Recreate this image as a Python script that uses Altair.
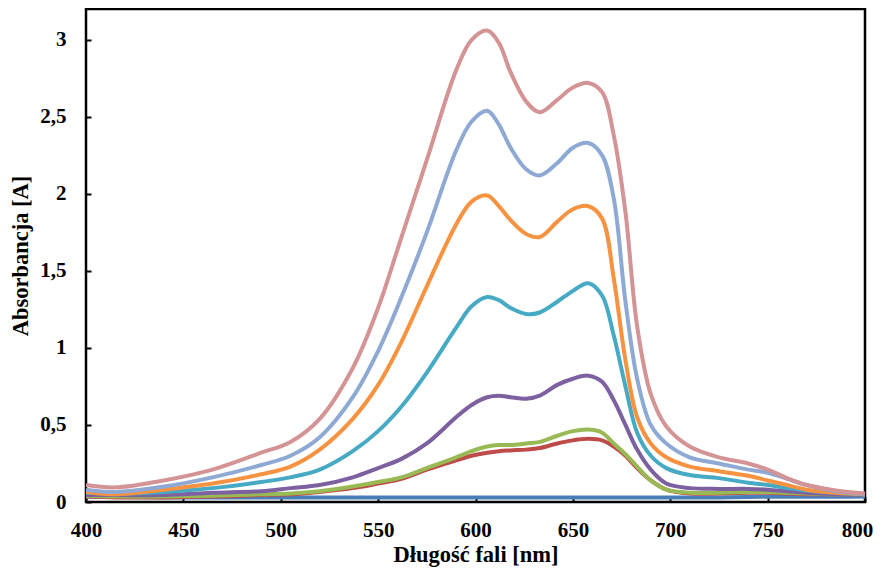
import altair as alt
import pandas as pd

wavelength = [400, 415, 440, 465, 490, 505, 520, 537, 550, 562, 575, 590, 598, 606, 612,
              618, 626, 633, 642, 650, 658, 665, 671, 677, 683, 690, 698, 710, 725, 740,
              750, 760, 770, 785, 800]

s_blue = [0.035, 0.032, 0.03, 0.03, 0.03, 0.03, 0.03, 0.03, 0.03, 0.03, 0.03, 0.03, 0.03, 0.03, 0.03,
          0.03, 0.03, 0.03, 0.03, 0.03, 0.03, 0.03, 0.03, 0.03, 0.03, 0.03, 0.03, 0.03, 0.03, 0.033,
          0.034, 0.034, 0.034, 0.034, 0.035]
s_red = [0.035, 0.03, 0.03, 0.035, 0.045, 0.05, 0.065, 0.09, 0.12, 0.15, 0.21, 0.27, 0.30, 0.32, 0.33,
         0.335, 0.34, 0.35, 0.38, 0.40, 0.41, 0.40, 0.36, 0.30, 0.22, 0.14, 0.08, 0.055, 0.055, 0.06,
         0.06, 0.055, 0.05, 0.05, 0.05]
s_green = [0.04, 0.035, 0.035, 0.04, 0.05, 0.055, 0.07, 0.10, 0.13, 0.16, 0.22, 0.29, 0.33, 0.36, 0.37,
           0.37, 0.38, 0.39, 0.43, 0.46, 0.47, 0.45, 0.38, 0.31, 0.23, 0.14, 0.08, 0.06, 0.06, 0.065,
           0.065, 0.06, 0.055, 0.05, 0.05]
s_purple = [0.045, 0.045, 0.045, 0.06, 0.07, 0.09, 0.11, 0.16, 0.22, 0.28, 0.38, 0.55, 0.63, 0.68, 0.69,
            0.68, 0.67, 0.69, 0.76, 0.80, 0.82, 0.78, 0.66, 0.50, 0.34, 0.21, 0.12, 0.09, 0.085, 0.085,
            0.08, 0.07, 0.06, 0.05, 0.05]
s_teal = [0.06, 0.055, 0.065, 0.09, 0.13, 0.16, 0.21, 0.33, 0.46, 0.62, 0.84, 1.13, 1.27, 1.33, 1.31,
          1.26, 1.22, 1.23, 1.30, 1.37, 1.42, 1.34, 1.08, 0.75, 0.45, 0.30, 0.22, 0.175, 0.155, 0.125,
          0.11, 0.09, 0.075, 0.06, 0.05]
s_orange = [0.065, 0.05, 0.08, 0.12, 0.18, 0.23, 0.34, 0.54, 0.76, 1.04, 1.40, 1.80, 1.95, 1.99, 1.92,
            1.83, 1.74, 1.72, 1.82, 1.90, 1.92, 1.84, 1.45, 0.92, 0.55, 0.38, 0.29, 0.23, 0.20, 0.17,
            0.14, 0.11, 0.08, 0.06, 0.05]
s_lightblue = [0.08, 0.065, 0.10, 0.16, 0.24, 0.30, 0.42, 0.68, 0.98, 1.33, 1.75, 2.28, 2.47, 2.54, 2.45,
               2.30, 2.16, 2.12, 2.20, 2.30, 2.33, 2.25, 1.97, 1.30, 0.80, 0.50, 0.38, 0.29, 0.25, 0.21,
               0.19, 0.15, 0.11, 0.07, 0.05]
s_pink = [0.11, 0.095, 0.14, 0.21, 0.32, 0.39, 0.54, 0.87, 1.26, 1.72, 2.22, 2.80, 3.00, 3.06, 2.98,
          2.79, 2.60, 2.53, 2.61, 2.69, 2.72, 2.66, 2.38, 1.88, 1.14, 0.70, 0.49, 0.36, 0.29, 0.25,
          0.21, 0.155, 0.11, 0.075, 0.055]

series = [s_blue, s_red, s_green, s_purple, s_teal, s_orange, s_lightblue, s_pink]
colors = ["#4A7EBB", "#BE4B48", "#98B954", "#7D60A0", "#46AAC5", "#F69240", "#8EA9D4", "#D49394"]

y_ticks = [0, 0.5, 1, 1.5, 2, 2.5, 3]
x_ticks = [400, 450, 500, 550, 600, 650, 700, 750, 800]

FONT = "Liberation Serif"

x_enc = alt.X("nm:Q",
              scale=alt.Scale(domain=[400, 800], nice=False),
              axis=alt.Axis(title="Długość fali [nm]", values=x_ticks, format="d",
                            grid=False, domain=False, offset=-5, tickSize=5, tickWidth=2,
                            tickColor="black", labelPadding=17, titlePadding=3, labelFlush=False,
                            labelOffset={"condition": {"test": "datum.value == 800", "value": -8},
                                         "value": 0},
                            labelFontSize=21, titleFontSize=22.5, labelFont=FONT, titleFont=FONT,
                            labelFontWeight="bold", titleFontWeight="bold",
                            labelColor="black", titleColor="black"))
y_enc = alt.Y("A:Q",
              scale=alt.Scale(domain=[0, 3.2], nice=False),
              axis=alt.Axis(title="Absorbancja [A]", values=y_ticks, format="~g",
                            labelExpr="replace(datum.label, '.', ',')",
                            grid=False, domain=False, offset=-5, tickSize=5, tickWidth=2,
                            tickColor="black", labelPadding=20, titlePadding=7, labelFlush=False,
                            labelFontSize=21, titleFontSize=22.5, labelFont=FONT, titleFont=FONT,
                            labelFontWeight="bold", titleFontWeight="bold",
                            labelColor="black", titleColor="black"))

layers = []
for vals, col in zip(series, colors):
    df = pd.DataFrame({"nm": wavelength, "A": vals})
    layers.append(
        alt.Chart(df).mark_line(color=col, strokeWidth=4, interpolate="catmull-rom")
        .encode(x=x_enc, y=y_enc)
    )

chart = alt.layer(*layers).properties(
    width=779, height=493,
    autosize=alt.AutoSizeParams(type="none"),
    padding={"left": 78, "top": 1, "right": 10, "bottom": 69},
    background="white",
).configure_view(stroke="black", strokeWidth=2.5)

chart.save("out.html", embed_options={"renderer": "svg", "actions": False})
